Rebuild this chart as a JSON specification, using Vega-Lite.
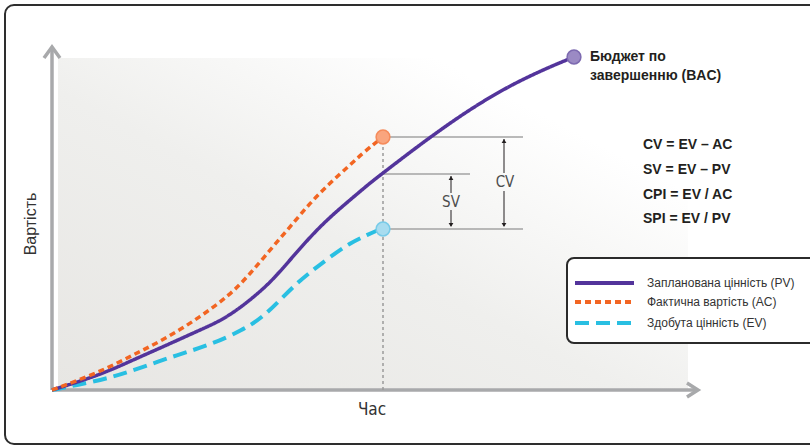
{
  "$schema": "https://vega.github.io/schema/vega-lite/v6.json",
  "width": 810,
  "height": 446,
  "autosize": {"type": "none"},
  "padding": 0,
  "background": "#ffffff",
  "config": {"view": {"stroke": null}},
  "datasets": {
    "curves": [
      {"series": "PV", "t": 0, "c": 0}, {"series": "PV", "t": 48, "c": 15}, {"series": "PV", "t": 81, "c": 30},
      {"series": "PV", "t": 115, "c": 45}, {"series": "PV", "t": 148, "c": 60}, {"series": "PV", "t": 168, "c": 69},
      {"series": "PV", "t": 185, "c": 80}, {"series": "PV", "t": 198, "c": 90}, {"series": "PV", "t": 218, "c": 107},
      {"series": "PV", "t": 238, "c": 130}, {"series": "PV", "t": 258, "c": 153}, {"series": "PV", "t": 278, "c": 173},
      {"series": "PV", "t": 298, "c": 190}, {"series": "PV", "t": 318, "c": 207}, {"series": "PV", "t": 331, "c": 217},
      {"series": "PV", "t": 348, "c": 230}, {"series": "PV", "t": 361, "c": 240}, {"series": "PV", "t": 395, "c": 265},
      {"series": "PV", "t": 428, "c": 287}, {"series": "PV", "t": 461, "c": 306}, {"series": "PV", "t": 495, "c": 322},
      {"series": "PV", "t": 522, "c": 333},
      {"series": "AC", "t": 0, "c": 0}, {"series": "AC", "t": 48, "c": 18}, {"series": "AC", "t": 81, "c": 35},
      {"series": "AC", "t": 115, "c": 52}, {"series": "AC", "t": 148, "c": 73}, {"series": "AC", "t": 178, "c": 95},
      {"series": "AC", "t": 198, "c": 116}, {"series": "AC", "t": 218, "c": 140}, {"series": "AC", "t": 238, "c": 163},
      {"series": "AC", "t": 258, "c": 187}, {"series": "AC", "t": 278, "c": 207}, {"series": "AC", "t": 298, "c": 225},
      {"series": "AC", "t": 311, "c": 237}, {"series": "AC", "t": 322, "c": 246}, {"series": "AC", "t": 331, "c": 253},
      {"series": "EV", "t": 0, "c": 0}, {"series": "EV", "t": 25, "c": 5}, {"series": "EV", "t": 58, "c": 12},
      {"series": "EV", "t": 91, "c": 23}, {"series": "EV", "t": 125, "c": 35}, {"series": "EV", "t": 158, "c": 45},
      {"series": "EV", "t": 191, "c": 60}, {"series": "EV", "t": 211, "c": 73}, {"series": "EV", "t": 228, "c": 90},
      {"series": "EV", "t": 245, "c": 107}, {"series": "EV", "t": 261, "c": 120}, {"series": "EV", "t": 278, "c": 133},
      {"series": "EV", "t": 298, "c": 147}, {"series": "EV", "t": 315, "c": 155}, {"series": "EV", "t": 331, "c": 162}
    ],
    "points": [
      {"point": "BAC", "t": 522, "c": 333},
      {"point": "AC", "t": 331, "c": 253},
      {"point": "EV", "t": 331, "c": 161}
    ],
    "axes": [
      {"id": "y", "ord": 0, "t": 0, "c": 0}, {"id": "y", "ord": 1, "t": 0, "c": 342},
      {"id": "yh", "ord": 0, "t": -8, "c": 332}, {"id": "yh", "ord": 1, "t": 0, "c": 343}, {"id": "yh", "ord": 2, "t": 8, "c": 332},
      {"id": "x", "ord": 0, "t": 0, "c": 0}, {"id": "x", "ord": 1, "t": 645, "c": 0},
      {"id": "xh", "ord": 0, "t": 635, "c": 7}, {"id": "xh", "ord": 1, "t": 646, "c": 0}, {"id": "xh", "ord": 2, "t": 635, "c": -7}
    ],
    "levels": [
      {"t1": 331, "t2": 471, "c": 253},
      {"t1": 331, "t2": 418, "c": 216},
      {"t1": 331, "t2": 471, "c": 161}
    ],
    "statusDate": [{"t": 331, "c1": 0, "c2": 253}],
    "arrowLines": [
      {"t": 399, "c1": 197, "c2": 214},
      {"t": 399, "c1": 164, "c2": 180},
      {"t": 452, "c1": 217, "c2": 251},
      {"t": 452, "c1": 164, "c2": 199}
    ],
    "arrowHeads": [
      {"t": 399, "c": 212, "dir": "up"},
      {"t": 399, "c": 165, "dir": "down"},
      {"t": 452, "c": 249, "dir": "up"},
      {"t": 452, "c": 165, "dir": "down"}
    ],
    "legendRows": [
      {"series": "PV", "label": "Запланована цінність (PV)", "t1": 523, "t2": 582, "tl": 595, "c": 107},
      {"series": "AC", "label": "Фактична вартість (AC)", "t1": 523, "t2": 582, "tl": 595, "c": 88},
      {"series": "EV", "label": "Здобута цінність (EV)", "t1": 523, "t2": 582, "tl": 595, "c": 67}
    ],
    "formulas": [
      {"text": "CV = EV – AC", "t": 591, "c": 245},
      {"text": "SV = EV – PV", "t": 591, "c": 220},
      {"text": "CPI = EV / AC", "t": 591, "c": 195},
      {"text": "SPI = EV / PV", "t": 591, "c": 171},
      {"text": "Бюджет по", "t": 538, "c": 333},
      {"text": "завершенню (BAC)", "t": 538, "c": 314}
    ],
    "varLabels": [
      {"text": "SV", "t": 399, "c": 188},
      {"text": "CV", "t": 453, "c": 208}
    ]
  },
  "encoding": {
    "x": {"field": "t", "type": "quantitative", "scale": {"domain": [-52, 758], "nice": false, "zero": false}, "axis": null},
    "y": {"field": "c", "type": "quantitative", "scale": {"domain": [-56, 390], "nice": false, "zero": false}, "axis": null}
  },
  "layer": [
    {
      "data": {"values": [{"t1": -47, "t2": 850, "c1": 385, "c2": -54}]},
      "mark": {"type": "rect", "filled": false, "stroke": "#2e2e2e", "strokeWidth": 2, "cornerRadius": 9},
      "encoding": {
        "x": {"field": "t1", "type": "quantitative"}, "x2": {"field": "t2"},
        "y": {"field": "c1", "type": "quantitative"}, "y2": {"field": "c2"}
      }
    },
    {
      "data": {"values": [{"t1": 6, "t2": 636, "c1": 332, "c2": 0}]},
      "mark": {"type": "rect", "color": {"gradient": "linear", "x1": 0, "y1": 1, "x2": 1, "y2": 0,
        "stops": [{"offset": 0, "color": "#e7e6e3"}, {"offset": 0.45, "color": "#efefed"}, {"offset": 0.8, "color": "#ffffff"}]}},
      "encoding": {
        "x": {"field": "t1", "type": "quantitative"}, "x2": {"field": "t2"},
        "y": {"field": "c1", "type": "quantitative"}, "y2": {"field": "c2"}
      }
    },
    {
      "data": {"name": "axes"},
      "mark": {"type": "line", "stroke": "#a8a9ab", "strokeWidth": 3.5, "strokeJoin": "miter", "strokeCap": "butt"},
      "encoding": {
        "detail": {"field": "id", "type": "nominal"},
        "order": {"field": "ord", "type": "quantitative"}
      }
    },
    {
      "data": {"name": "levels"},
      "mark": {"type": "rule", "stroke": "#a3a3a3", "strokeWidth": 1.6},
      "encoding": {
        "x": {"field": "t1", "type": "quantitative"}, "x2": {"field": "t2"}
      }
    },
    {
      "data": {"name": "statusDate"},
      "mark": {"type": "rule", "stroke": "#9a9a9a", "strokeWidth": 1.5, "strokeDash": [3, 3]},
      "encoding": {
        "y": {"field": "c1", "type": "quantitative"}, "y2": {"field": "c2"}
      }
    },
    {
      "data": {"name": "curves"},
      "transform": [{"filter": "datum.series === 'EV'"}],
      "mark": {"type": "line", "interpolate": "basis", "strokeWidth": 4, "strokeCap": "butt"},
      "encoding": {
        "color": {"field": "series", "type": "nominal", "scale": {"domain": ["PV", "AC", "EV"], "range": ["#53349b", "#f26522", "#29bfe2"]}, "legend": null},
        "strokeDash": {"field": "series", "type": "nominal", "scale": {"domain": ["PV", "AC", "EV"], "range": [[1, 0], [6, 4], [14, 7]]}, "legend": null}
      }
    },
    {
      "data": {"name": "curves"},
      "transform": [{"filter": "datum.series === 'PV'"}],
      "mark": {"type": "line", "interpolate": "basis", "strokeWidth": 3.5, "strokeCap": "butt"},
      "encoding": {
        "color": {"field": "series", "type": "nominal", "scale": {"domain": ["PV", "AC", "EV"], "range": ["#53349b", "#f26522", "#29bfe2"]}, "legend": null},
        "strokeDash": {"field": "series", "type": "nominal", "scale": {"domain": ["PV", "AC", "EV"], "range": [[1, 0], [6, 4], [14, 7]]}, "legend": null}
      }
    },
    {
      "data": {"name": "curves"},
      "transform": [{"filter": "datum.series === 'AC'"}],
      "mark": {"type": "line", "interpolate": "basis", "strokeWidth": 3.5, "strokeCap": "butt"},
      "encoding": {
        "color": {"field": "series", "type": "nominal", "scale": {"domain": ["PV", "AC", "EV"], "range": ["#53349b", "#f26522", "#29bfe2"]}, "legend": null},
        "strokeDash": {"field": "series", "type": "nominal", "scale": {"domain": ["PV", "AC", "EV"], "range": [[1, 0], [6, 4], [14, 7]]}, "legend": null}
      }
    },
    {
      "data": {"name": "points"},
      "mark": {"type": "point", "filled": true, "size": 190, "strokeWidth": 1.5, "opacity": 1},
      "encoding": {
        "fill": {"field": "point", "type": "nominal", "scale": {"domain": ["BAC", "AC", "EV"], "range": ["#9b8ac4", "#f9a57e", "#a8dcef"]}, "legend": null},
        "stroke": {"field": "point", "type": "nominal", "scale": {"domain": ["BAC", "AC", "EV"], "range": ["#7d6ab0", "#f58b5b", "#78cbe8"]}, "legend": null}
      }
    },
    {
      "data": {"name": "arrowLines"},
      "mark": {"type": "rule", "stroke": "#231f20", "strokeWidth": 1},
      "encoding": {
        "y": {"field": "c1", "type": "quantitative"}, "y2": {"field": "c2"}
      }
    },
    {
      "data": {"name": "arrowHeads"},
      "mark": {"type": "point", "filled": true, "size": 22, "color": "#231f20", "opacity": 1},
      "encoding": {
        "shape": {"field": "dir", "type": "nominal", "scale": {"domain": ["up", "down"], "range": ["triangle-up", "triangle-down"]}, "legend": null}
      }
    },
    {
      "data": {"name": "varLabels"},
      "mark": {"type": "text", "font": "Liberation Sans Narrow, DejaVu Sans Condensed, sans-serif", "fontSize": 15, "color": "#4d4d4d", "align": "center", "baseline": "middle"},
      "encoding": {"text": {"field": "text"}}
    },
    {
      "data": {"name": "formulas"},
      "mark": {"type": "text", "font": "Liberation Sans", "fontSize": 14, "fontWeight": "bold", "color": "#231f20", "align": "left", "baseline": "middle"},
      "encoding": {"text": {"field": "text"}}
    },
    {
      "data": {"values": [{"text": "Вартість", "t": -21, "c": 166}]},
      "mark": {"type": "text", "font": "Liberation Sans", "fontSize": 16, "color": "#333333", "angle": 270, "align": "center", "baseline": "middle"},
      "encoding": {"text": {"field": "text"}}
    },
    {
      "data": {"values": [{"text": "Час", "t": 320, "c": -20}]},
      "mark": {"type": "text", "font": "Liberation Sans Narrow, DejaVu Sans Condensed, sans-serif", "fontSize": 17, "color": "#333333", "align": "center", "baseline": "middle"},
      "encoding": {"text": {"field": "text"}}
    },
    {
      "data": {"values": [{"t1": 515, "t2": 790, "c1": 132, "c2": 47}]},
      "mark": {"type": "rect", "fill": "#ffffff", "stroke": "#2b2b2b", "strokeWidth": 2, "cornerRadius": 7},
      "encoding": {
        "x": {"field": "t1", "type": "quantitative"}, "x2": {"field": "t2"},
        "y": {"field": "c1", "type": "quantitative"}, "y2": {"field": "c2"}
      }
    },
    {
      "data": {"name": "legendRows"},
      "mark": {"type": "rule", "strokeWidth": 4, "strokeCap": "butt"},
      "encoding": {
        "x": {"field": "t1", "type": "quantitative"}, "x2": {"field": "t2"},
        "color": {"field": "series", "type": "nominal", "scale": {"domain": ["PV", "AC", "EV"], "range": ["#53349b", "#f26522", "#29bfe2"]}, "legend": null},
        "strokeDash": {"field": "series", "type": "nominal", "scale": {"domain": ["PV", "AC", "EV"], "range": [[1, 0], [6, 4], [14, 7]]}, "legend": null}
      }
    },
    {
      "data": {"name": "legendRows"},
      "mark": {"type": "text", "font": "Liberation Sans", "fontSize": 12, "color": "#333333", "align": "left", "baseline": "middle"},
      "encoding": {
        "x": {"field": "tl", "type": "quantitative"},
        "text": {"field": "label"}
      }
    }
  ]
}
